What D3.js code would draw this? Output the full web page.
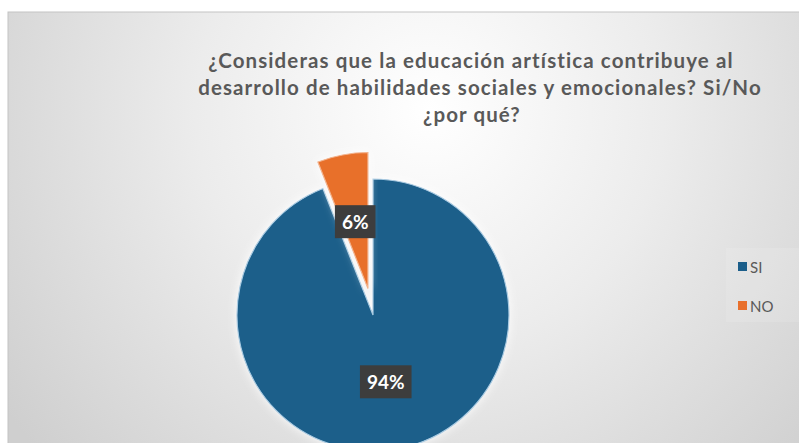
<!DOCTYPE html>
<html>
<head>
<meta charset="utf-8">
<script src="https://cdn.jsdelivr.net/npm/d3@7"></script>
<style>
  html, body { margin: 0; padding: 0; background: #fff; }
  svg { display: block; }
</style>
</head>
<body>
<svg id="chart" width="799" height="443"></svg>
<script>
const categories = ["SI", "NO"];
const values = [94, 6];
const labels = ["94%", "6%"];
const titleLines = [
  "¿Consideras que la educación artística contribuye al",
  "desarrollo de habilidades sociales y emocionales? Si/No",
  "¿por qué?"
];
const colors = ["#1b5e8a", "#e8702c"];

const W = 799, H = 443;
const svg = d3.select("#chart");
const defs = svg.append("defs");

const grad = defs.append("radialGradient")
  .attr("id", "bg").attr("gradientUnits", "userSpaceOnUse")
  .attr("cx", 430).attr("cy", 110).attr("r", 520);
grad.append("stop").attr("offset", "0%").attr("stop-color", "#ffffff");
grad.append("stop").attr("offset", "45%").attr("stop-color", "#ececec");
grad.append("stop").attr("offset", "100%").attr("stop-color", "#cfcfcf");

const glow = defs.append("filter").attr("id", "glow")
  .attr("x", "-20%").attr("y", "-20%").attr("width", "140%").attr("height", "140%");
glow.append("feGaussianBlur").attr("in", "SourceAlpha").attr("stdDeviation", 5).attr("result", "b");
glow.append("feFlood").attr("flood-color", "#ffffff").attr("flood-opacity", 0.9);
glow.append("feComposite").attr("in2", "b").attr("operator", "in").attr("result", "g");
const m = glow.append("feMerge");
m.append("feMergeNode").attr("in", "g");
m.append("feMergeNode").attr("in", "SourceGraphic");

// chart area
svg.append("rect").attr("x", 8).attr("y", 12).attr("width", W).attr("height", H)
  .attr("fill", "url(#bg)").attr("stroke", "#c4c4c4").attr("stroke-width", 1);

// title
const title = svg.append("text")
  .attr("font-family", "Lato, 'Open Sans', sans-serif")
  .attr("font-weight", "bold").attr("font-size", 20.5)
  .attr("letter-spacing", 1.1)
  .attr("fill", "#595959").attr("text-anchor", "middle");
const titleX = [471, 480, 472];
titleLines.forEach((t, i) => {
  title.append("tspan").attr("x", titleX[i]).attr("y", 68 + i * 27).text(t);
});

// pie
const cx = 373, cy = 315, r = 136, explode = 27;
const pie = d3.pie().sort(null).value(d => d)(values);
const arc = d3.arc().innerRadius(0).outerRadius(r);

const g = svg.append("g").attr("transform", `translate(${cx},${cy})`);
const slices = g.selectAll("g.slice").data(pie).join("g")
  .attr("class", "slice")
  .attr("transform", (d, i) => {
    if (i === 1) {
      const a = (d.startAngle + d.endAngle) / 2;
      return `translate(${Math.sin(a) * explode},${-Math.cos(a) * explode})`;
    }
    return null;
  });

slices.append("path")
  .attr("d", arc)
  .attr("fill", (d, i) => colors[i])
  .attr("stroke", (d, i) => i === 0 ? "#a9cbe2" : "#f3b48c")
  .attr("stroke-width", 1.2)
  .attr("filter", "url(#glow)");

// data labels
slices.each(function (d, i) {
  const [lx, ly] = arc.centroid(d);
  const sel = d3.select(this);
  const txt = sel.append("text")
    .attr("x", lx).attr("y", ly)
    .attr("text-anchor", "middle").attr("dominant-baseline", "central")
    .attr("font-family", "Lato, 'Open Sans', sans-serif")
    .attr("font-weight", "bold").attr("font-size", 19)
    .attr("fill", "#ffffff").text(labels[i]);
  const bb = txt.node().getBBox();
  sel.insert("rect", "text")
    .attr("x", bb.x - 7).attr("y", bb.y - 5)
    .attr("width", bb.width + 14).attr("height", bb.height + 10)
    .attr("fill", "#3d3d3d");
});

// legend
const legend = svg.append("g");
legend.append("rect").attr("x", 726).attr("y", 248).attr("width", 73).attr("height", 74)
  .attr("fill", "#ffffff").attr("opacity", 0.12);
const ly0 = 267, lstep = 39;
categories.forEach((c, i) => {
  legend.append("rect").attr("x", 738).attr("y", ly0 + i * lstep - 5)
    .attr("width", 9).attr("height", 9).attr("fill", colors[i]);
  legend.append("text").attr("x", 750).attr("y", ly0 + i * lstep)
    .attr("dominant-baseline", "central")
    .attr("font-family", "Lato, 'Open Sans', sans-serif").attr("font-size", 15)
    .attr("fill", "#595959").text(c);
});
</script>
</body>
</html>
